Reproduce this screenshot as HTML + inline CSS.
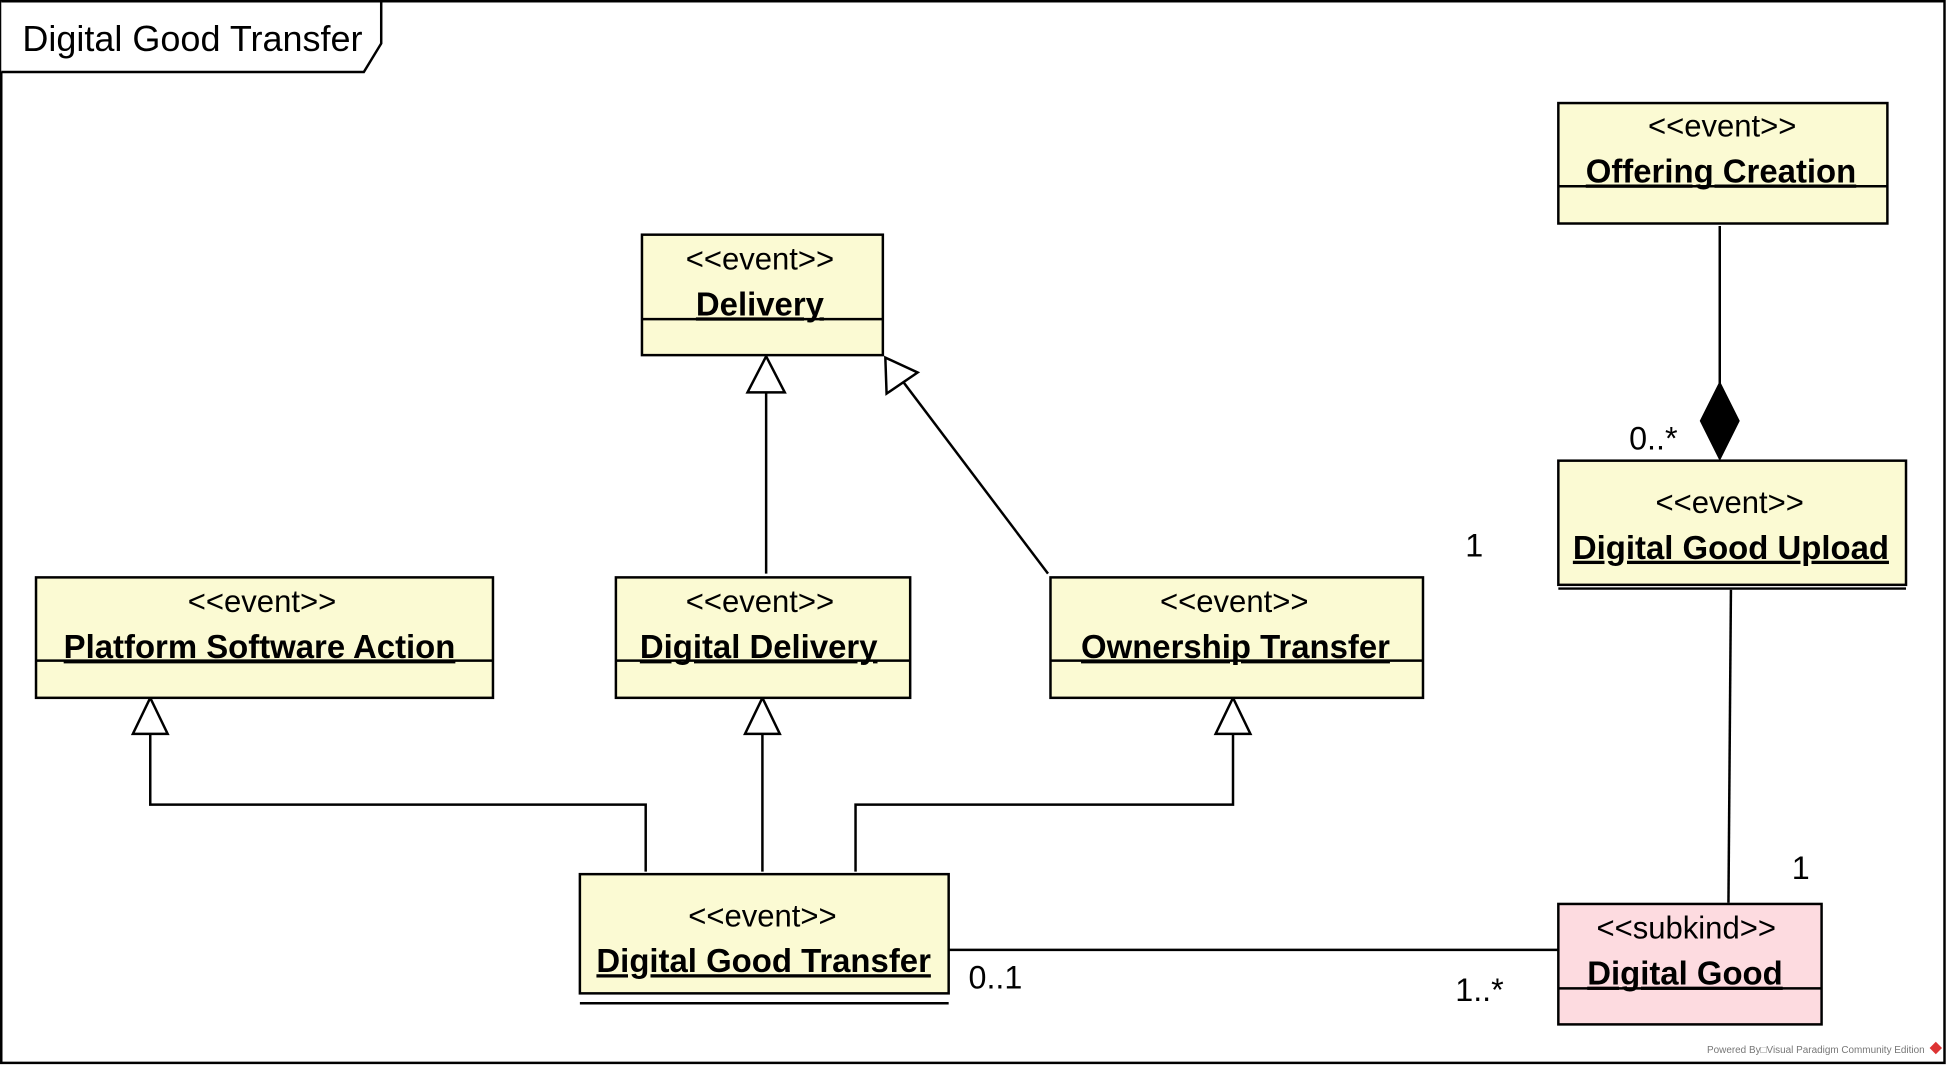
<!DOCTYPE html>
<html><head><meta charset="utf-8"><style>html,body{margin:0;padding:0;background:#fff}svg{display:block}text{font-family:"Liberation Sans",Arial,sans-serif;fill:#000}</style></head>
<body>
<svg width="1947" height="1065" viewBox="0 0 1568 857.7" xmlns="http://www.w3.org/2000/svg">
<rect x="1" y="1" width="1565" height="855" fill="#fff" stroke="#000" stroke-width="2"/>
<path d="M1,1 H307 V35 L293,58 H1" fill="#fff" stroke="#000" stroke-width="2"/>
<text x="18" y="41" font-size="29">Digital Good Transfer</text>

<g stroke="#000" stroke-width="2" fill="none">
<line x1="617" y1="462" x2="617" y2="316"/>
<polygon points="617,287 602,316 632,316" fill="#fff"/>
<line x1="844" y1="462" x2="727" y2="307"/>
<polygon points="713,288 714,317 739,300" fill="#fff"/>
<polyline points="520,702 520,648 121,648 121,591"/>
<polygon points="121,562 107,591 135,591" fill="#fff"/>
<line x1="614" y1="702" x2="614" y2="591"/>
<polygon points="614,562 600,591 628,591" fill="#fff"/>
<polyline points="689,702 689,648 993,648 993,591"/>
<polygon points="993,562 979,591 1007,591" fill="#fff"/>
<line x1="1385" y1="182" x2="1385" y2="309"/>
<polygon points="1385,309 1400,339 1385,369 1370,339" fill="#000"/>
<line x1="1394" y1="475" x2="1392" y2="727"/>
<line x1="764" y1="765" x2="1255" y2="765"/>
</g>

<g stroke="#000" stroke-width="2">
<rect x="1255" y="83" width="265" height="97" fill="#fbfad3"/><line x1="1255" y1="150" x2="1520" y2="150"/>
<rect x="517" y="189" width="194" height="97" fill="#fbfad3"/><line x1="517" y1="257" x2="711" y2="257"/>
<rect x="29" y="465" width="368" height="97" fill="#fbfad3"/><line x1="29" y1="532" x2="397" y2="532"/>
<rect x="496" y="465" width="237" height="97" fill="#fbfad3"/><line x1="496" y1="532" x2="733" y2="532"/>
<rect x="846" y="465" width="300" height="97" fill="#fbfad3"/><line x1="846" y1="532" x2="1146" y2="532"/>
<rect x="1255" y="371" width="280" height="100" fill="#fbfad3"/><line x1="1255" y1="474" x2="1535" y2="474"/>
<rect x="467" y="704" width="297" height="96" fill="#fbfad3"/><line x1="467" y1="808" x2="764" y2="808"/>
<rect x="1255" y="728" width="212" height="97" fill="#fddbe0"/><line x1="1255" y1="796" x2="1467" y2="796"/>
</g>

<g font-size="25" text-anchor="middle">
<text x="1387" y="110">&lt;&lt;event&gt;&gt;</text>
<text x="612" y="217">&lt;&lt;event&gt;&gt;</text>
<text x="211" y="493">&lt;&lt;event&gt;&gt;</text>
<text x="612" y="493">&lt;&lt;event&gt;&gt;</text>
<text x="994" y="493">&lt;&lt;event&gt;&gt;</text>
<text x="1393" y="413">&lt;&lt;event&gt;&gt;</text>
<text x="614" y="746">&lt;&lt;event&gt;&gt;</text>
<text x="1358" y="756">&lt;&lt;subkind&gt;&gt;</text>
</g>
<g font-size="26.5" font-weight="bold" text-anchor="middle" text-decoration="underline">
<text x="1386" y="147">Offering Creation</text>
<text x="612" y="254">Delivery</text>
<text x="209" y="530">Platform Software Action</text>
<text x="611" y="530">Digital Delivery</text>
<text x="995" y="530">Ownership Transfer</text>
<text x="1394" y="450">Digital Good Upload</text>
<text x="615" y="783">Digital Good Transfer</text>
<text x="1357" y="793">Digital Good</text>
</g>
<g font-size="26">
<text x="1312" y="362">0..*</text>
<text x="1180" y="448">1</text>
<text x="1443" y="708">1</text>
<text x="780" y="796">0..1</text>
<text x="1172" y="806">1..*</text>
</g>
<text x="1550" y="848" font-size="8" text-anchor="end" style="fill:#777">Powered By□Visual Paradigm Community Edition</text>
<polygon points="1559,839 1564,844 1559,849 1554,844" fill="#d33"/>
</svg>
</body></html>
